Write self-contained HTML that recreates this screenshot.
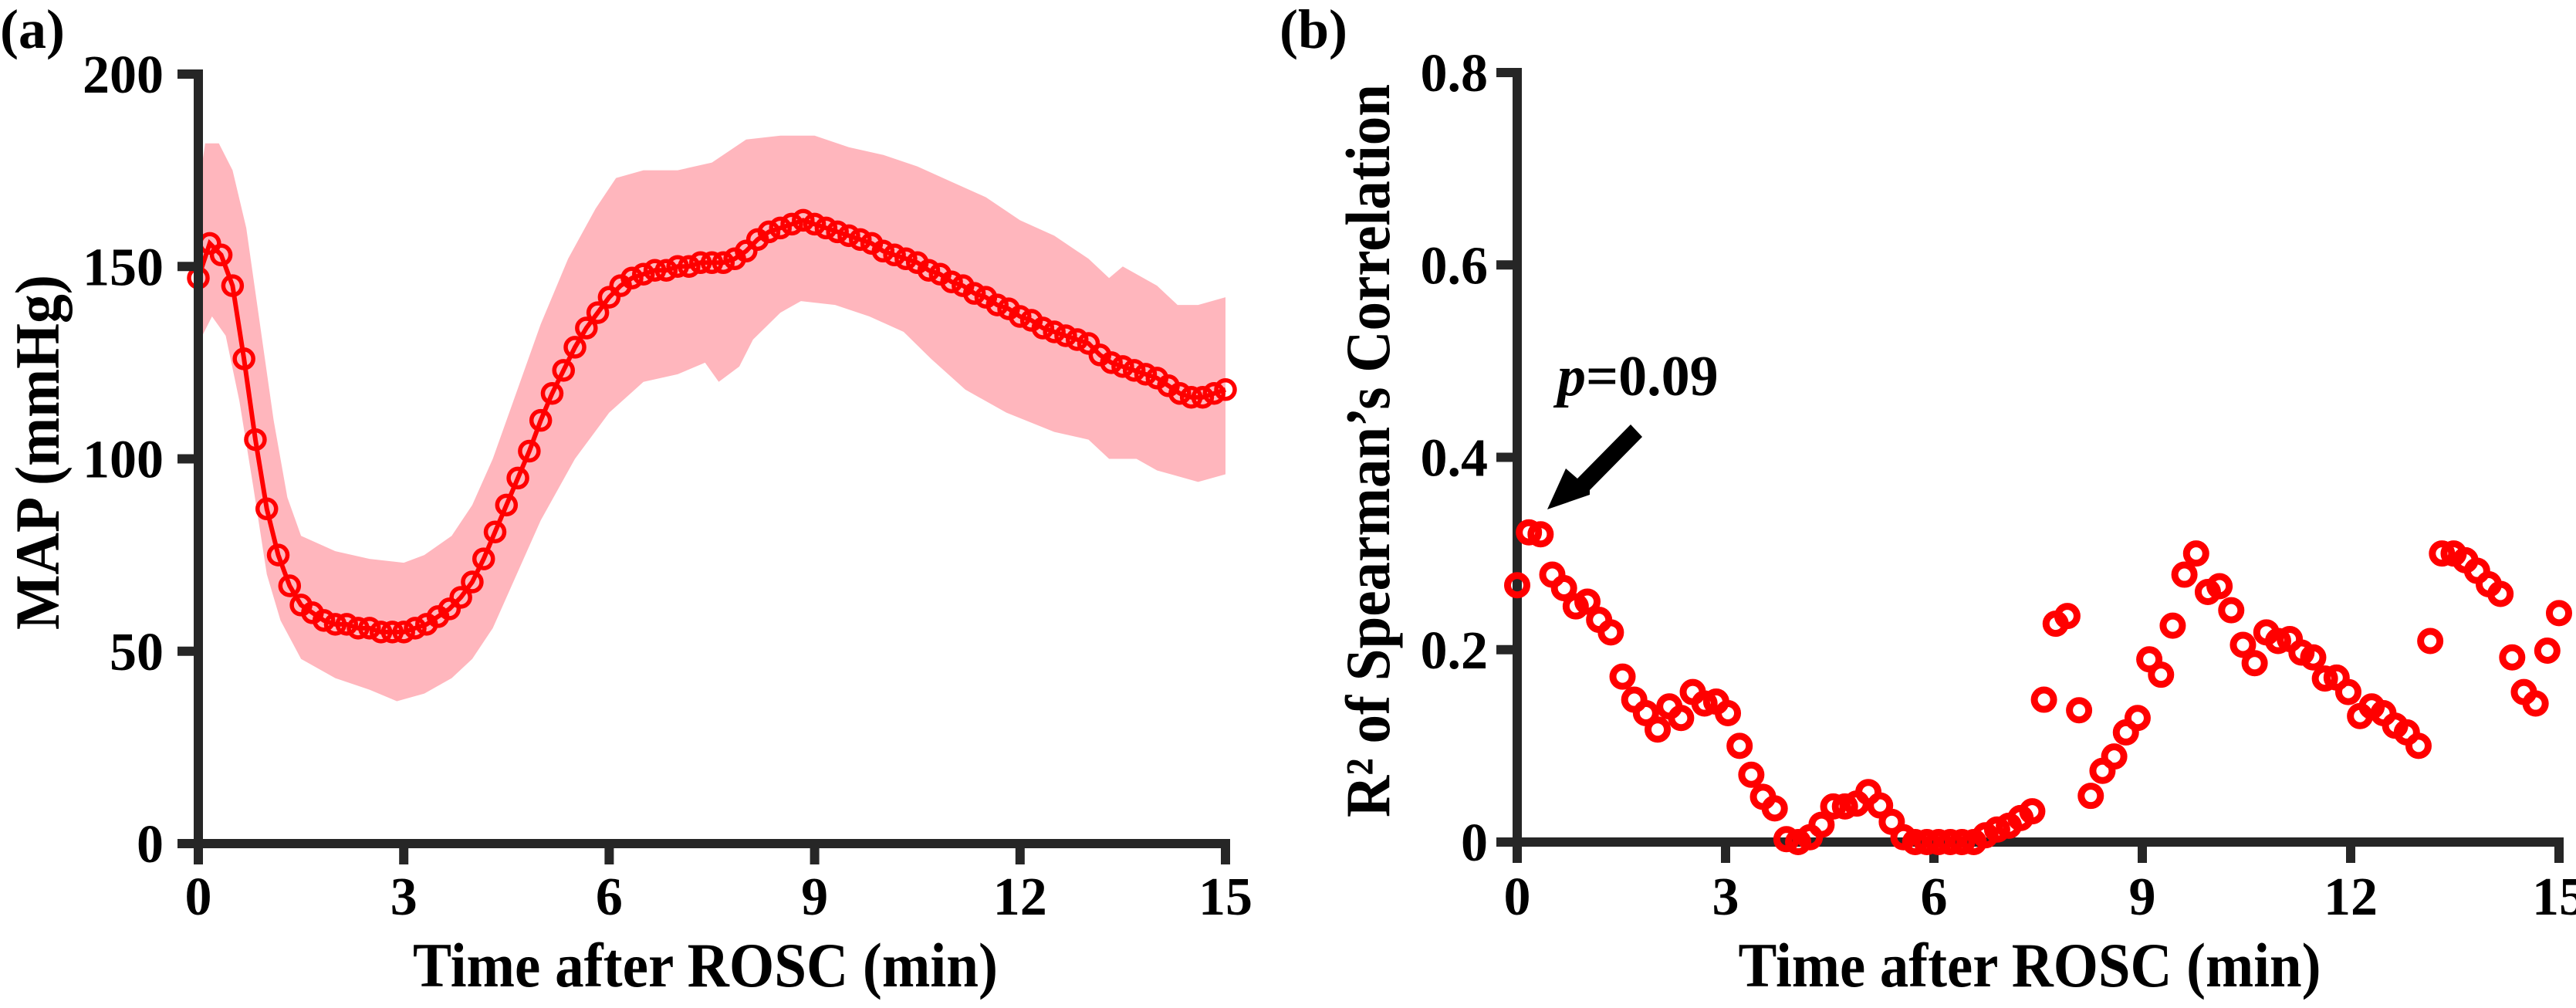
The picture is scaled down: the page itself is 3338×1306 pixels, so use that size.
<!DOCTYPE html>
<html><head><meta charset="utf-8"><style>
html,body{margin:0;padding:0;background:#fff;}
svg{display:block;}
text{font-family:"Liberation Serif","Times New Roman",serif;font-weight:bold;fill:#000;}
</style></head><body>
<svg id="fig" width="3338" height="1306" viewBox="0 0 3338 1306" xmlns="http://www.w3.org/2000/svg">
<g id="pa"></g>
<g id="pb"></g>
</svg>
<script>
// Panel (a) data
const mapMean = [147,156,153,145,126,105,87,75,67,62,60,58,57,57,56,56,55,55,55,56,57,59,61,64,68,74,81,88,95,102,110,117,123,129,134,138,142,145,147,148,149,149,150,150,151,151,151,152,154,157,159,160,161,162,161,160,159,158,157,156,154,153,152,151,149,148,146,145,143,142,140,139,137,136,134,133,132,131,130,127,125,124,123,122,121,119,117,116,116,117,118];
const bandT = [0,0.1,0.3,0.5,0.7,0.9,1.1,1.3,1.5,2,2.5,3,3.3,3.7,4,4.3,4.6,5,5.4,5.8,6.1,6.5,7,7.5,8,8.5,9,9.5,10,10.5,11,11.5,12,12.5,13,13.3,13.5,14,14.3,14.6,15];
const bandUpper = [170,182,182,175,160,135,110,90,80,76,74,73,75,80,88,100,115,135,152,165,173,175,175,177,183,184,184,181,179,176,172,168,162,158,152,147,150,145,140,140,142];
const bandLowT = [0,0.2,0.4,0.6,0.8,1,1.2,1.5,2,2.5,2.9,3.3,3.7,4,4.3,4.6,5,5.5,6,6.5,7,7.4,7.6,7.9,8.1,8.5,8.8,9.3,9.8,10.3,10.7,11.2,11.8,12.5,13,13.3,13.7,14,14.4,14.6,15];
const bandLower = [130,137,132,115,93,70,58,48,43,40,37,39,43,48,56,68,84,100,112,120,122,125,120,124,131,138,141,140,137,133,126,118,112,107,105,100,100,97,95,94,96];
const xTicks = [0,3,6,9,12,15];
const yTicksA = [0,50,100,150,200];
// Panel (b) data
const r2 = [0.267,0.322,0.32,0.278,0.264,0.245,0.25,0.231,0.218,0.172,0.148,0.134,0.117,0.141,0.129,0.156,0.144,0.146,0.134,0.1,0.07,0.047,0.035,0.003,0,0.005,0.018,0.037,0.037,0.04,0.052,0.038,0.021,0.005,0,0,0,0,0,0,0.007,0.013,0.017,0.025,0.032,0.148,0.227,0.235,0.137,0.048,0.074,0.089,0.114,0.129,0.19,0.174,0.225,0.278,0.3,0.26,0.266,0.241,0.205,0.186,0.218,0.209,0.211,0.197,0.192,0.17,0.171,0.156,0.131,0.141,0.134,0.121,0.114,0.1,0.209,0.3,0.3,0.293,0.282,0.268,0.258,0.192,0.156,0.144,0.199,0.238];
const yTicksB = [0,0.2,0.4,0.6,0.8];
const yTickLabelsB = ["0","0.2","0.4","0.6","0.8"];

const NS="http://www.w3.org/2000/svg";
function mk(tag, attrs, parent){const e=document.createElementNS(NS,tag);for(const k in attrs)e.setAttribute(k,attrs[k]);parent.appendChild(e);return e;}

// ---------- Panel A ----------
const pa=document.getElementById('pa');
const ax={x0:257,x1:1588,y0:1093,y1:96};
const xA=t=>ax.x0+(t/15)*(ax.x1-ax.x0);
const yA=v=>ax.y0-(v/200)*(ax.y0-ax.y1);
let pts=bandT.map((t,i)=>xA(t)+','+yA(bandUpper[i]));
for(let i=bandLowT.length-1;i>=0;i--)pts.push(xA(bandLowT[i])+','+yA(bandLower[i]));
const band=mk('polygon',{points:pts.join(' '),fill:'#ffb6bd',stroke:'none'},pa);


const nA=mapMean.length;
const lineA=mk('polyline',{points:mapMean.map((v,i)=>xA(i*15/(nA-1))+','+yA(v)).join(' '),fill:'none',stroke:'#ff0000','stroke-width':6},pa);


mapMean.forEach((v,i)=>{
  const c=mk('circle',{cx:xA(i*15/(nA-1)),cy:yA(v),r:12,fill:'none',stroke:'#ff0000','stroke-width':5.5},pa);
  
  
});
mk('line',{x1:ax.x0,y1:ax.y1-6,x2:ax.x0,y2:ax.y0+6,stroke:'#262626','stroke-width':12},pa);
mk('line',{x1:ax.x0-6,y1:ax.y0,x2:ax.x1+6,y2:ax.y0,stroke:'#262626','stroke-width':12},pa);
yTicksA.forEach(v=>{
  const y=yA(v);
  mk('line',{x1:ax.x0-27,y1:y,x2:ax.x0,y2:y,stroke:'#262626','stroke-width':12},pa);
  const t=mk('text',{x:212,y:y+24,'text-anchor':'end','font-size':70},pa);t.textContent=v;
  
  
});
xTicks.forEach(v=>{
  const x=xA(v);
  mk('line',{x1:x,y1:ax.y0,x2:x,y2:ax.y0+27,stroke:'#262626','stroke-width':12},pa);
  const t=mk('text',{x:x,y:1185,'text-anchor':'middle','font-size':70},pa);t.textContent=v;
  
  
});
</script>
<script>
(function(){
const NS="http://www.w3.org/2000/svg";
const fig=document.getElementById('fig');
function tx(s,a,name){const e=document.createElementNS(NS,'text');for(const k in a)e.setAttribute(k,a[k]);e.textContent=s;fig.appendChild(e);

return e;}
tx('(a)',{x:0,y:62,'font-size':72},'panel-label-a');
tx('(b)',{x:1658,y:62,'font-size':72},'panel-label-b');
tx('MAP (mmHg)',{x:0,y:0,'font-size':82,'text-anchor':'middle',textLength:460,lengthAdjust:'spacingAndGlyphs',transform:'translate(76,586) rotate(-90)'},'y-axis-title-a');
tx('Time after ROSC (min)',{x:914,y:1278,'font-size':82,'text-anchor':'middle',textLength:758,lengthAdjust:'spacingAndGlyphs'},'x-axis-title-a');
tx('R² of Spearman’s Correlation',{x:0,y:0,'font-size':82,'text-anchor':'middle',textLength:950,lengthAdjust:'spacingAndGlyphs',transform:'translate(1800,584) rotate(-90)'},'y-axis-title-b');
tx('Time after ROSC (min)',{x:2630,y:1278,'font-size':82,'text-anchor':'middle',textLength:755,lengthAdjust:'spacingAndGlyphs'},'x-axis-title-b');
const p=tx('',{x:2018,y:512,'font-size':74},'p-value-annotation');
const s1=document.createElementNS(NS,'tspan');s1.setAttribute('font-style','italic');s1.textContent='p';p.appendChild(s1);
const s2=document.createElementNS(NS,'tspan');s2.textContent='=0.09';p.appendChild(s2);
})();
(function(){
const NS="http://www.w3.org/2000/svg";
function mk(tag, attrs, parent){const e=document.createElementNS(NS,tag);for(const k in attrs)e.setAttribute(k,attrs[k]);parent.appendChild(e);return e;}
const pb=document.getElementById('pb');
const bx={x0:1966,x1:3316,y0:1091,y1:94};
const xB=t=>bx.x0+(t/15)*(bx.x1-bx.x0);
const yB=v=>bx.y0-(v/0.8)*(bx.y0-bx.y1);
mk('line',{x1:bx.x0,y1:bx.y1-6,x2:bx.x0,y2:bx.y0+6,stroke:'#262626','stroke-width':12},pb);
mk('line',{x1:bx.x0-6,y1:bx.y0,x2:bx.x1+6,y2:bx.y0,stroke:'#262626','stroke-width':12},pb);
yTicksB.forEach((v,i)=>{
  const y=yB(v);
  mk('line',{x1:bx.x0-27,y1:y,x2:bx.x0,y2:y,stroke:'#262626','stroke-width':12},pb);
  const t=mk('text',{x:1928,y:y+24,'text-anchor':'end','font-size':70},pb);t.textContent=yTickLabelsB[i];
  
  
});
xTicks.forEach(v=>{
  const x=xB(v);
  mk('line',{x1:x,y1:bx.y0,x2:x,y2:bx.y0+27,stroke:'#262626','stroke-width':12},pb);
  const t=mk('text',{x:x,y:1185,'text-anchor':'middle','font-size':70},pb);t.textContent=v;
  
  
});
const n=r2.length;
r2.forEach((v,i)=>{
  const c=mk('circle',{cx:xB(i*15/(n-1)),cy:yB(v),r:12.5,fill:'none',stroke:'#ff0000','stroke-width':9},pb);
  
  
});
const arrow=mk('polygon',{points:'2005,660 2029,607 2044,620 2113,550 2128,566 2060,635 2060,641',fill:'#000'},pb);


})();
</script>
</body></html>
